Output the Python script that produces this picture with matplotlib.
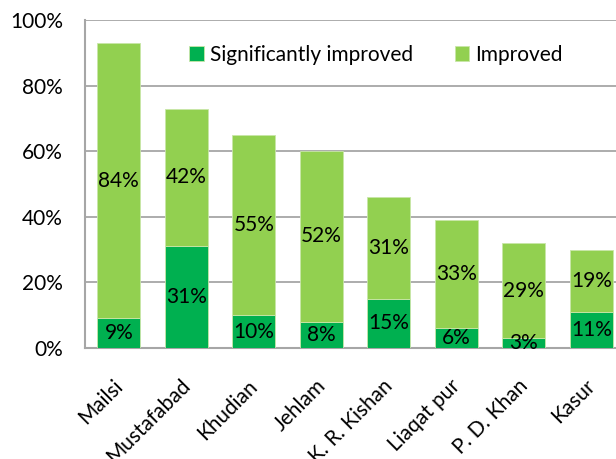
import numpy as np
import matplotlib.pyplot as plt
import matplotlib.transforms as mtransforms
from matplotlib.ticker import FuncFormatter

plt.rcParams["font.family"] = ["Lato", "DejaVu Sans"]

sites = ["Mailsi", "Mustafabad", "Khudian", "Jehlam", "K. R. Kishan",
         "Liaqat pur", "P. D. Khan", "Kasur"]
significantly = [9, 31, 10, 8, 15, 6, 3, 11]
improved = [84, 42, 55, 52, 31, 33, 29, 19]

dark_green = "#00B050"
light_green = "#92D050"
grid_grey = "#A6A6A6"
fs = 15


def main():
    fig = plt.figure(figsize=(6.16, 4.59), dpi=100)
    ax = fig.add_axes([85 / 616, 111 / 459, 540 / 616, 328 / 459])

    x = np.arange(len(sites))
    sig = np.array(significantly)
    imp = np.array(improved)
    width = 0.64

    b1 = ax.bar(x, sig, width, color=dark_green, label="Significantly improved",
                edgecolor="#C8E6A8", linewidth=0.6, zorder=3)
    b2 = ax.bar(x, imp, width, bottom=sig, color=light_green, label="Improved",
                edgecolor="#C8E6A8", linewidth=0.6, zorder=3)

    for i in range(len(sites)):
        ax.text(x[i], sig[i] / 2, f"{sig[i]}%", ha="center", va="center",
                fontsize=fs, zorder=4)
        ax.text(x[i], sig[i] + imp[i] / 2, f"{imp[i]}%", ha="center",
                va="center", fontsize=fs, zorder=4)

    ax.set_xlim(-0.5, len(sites) - 0.5)
    ax.set_ylim(0, 100)
    ax.set_yticks(range(0, 101, 20))
    ax.yaxis.set_major_formatter(FuncFormatter(lambda v, p: f"{v:.0f}%"))
    ax.grid(axis="y", color=grid_grey, linewidth=1.3, zorder=0)
    ax.set_axisbelow(True)

    for s in ["top", "right"]:
        ax.spines[s].set_visible(False)
    for s in ["left", "bottom"]:
        ax.spines[s].set_color(grid_grey)
        ax.spines[s].set_linewidth(1.5)

    ax.tick_params(axis="y", length=0, pad=16, labelsize=fs)
    ax.tick_params(axis="x", length=0, pad=20, labelsize=fs)
    ax.set_xticks(x)
    ax.set_xticklabels(sites, rotation=45, ha="right", rotation_mode="anchor")
    shift = mtransforms.ScaledTranslation(-6 / 100, 0, fig.dpi_scale_trans)
    for lbl in ax.get_xticklabels():
        lbl.set_transform(lbl.get_transform() + shift)

    fig.legend(handles=[b1, b2], loc="center",
               bbox_to_anchor=(376 / 616, 1 - 55 / 459), ncol=2, frameon=False,
               fontsize=fs, handlelength=0.7, handleheight=0.7,
               handletextpad=0.3, columnspacing=2.0)

    fig.savefig("out.png", dpi=100)


if __name__ == "__main__":
    main()
